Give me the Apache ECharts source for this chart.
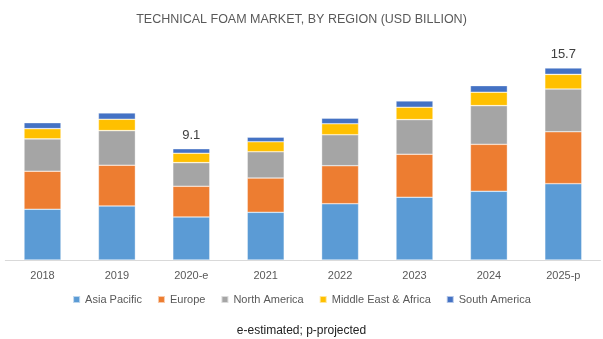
<!DOCTYPE html>
<html>
<head>
<meta charset="utf-8">
<script src="https://cdn.jsdelivr.net/npm/echarts@6/dist/echarts.min.js"></script>
<style>
html,body{margin:0;padding:0;background:#fff;}
#c{width:603px;height:339px;}
</style>
</head>
<body>
<div id="c"></div>
<script>
var categories = ['2018', '2019', '2020-e', '2021', '2022', '2023', '2024', '2025-p'];
var asiaPacific = [4.15, 4.42, 3.52, 3.90, 4.60, 5.13, 5.62, 6.24];
var europe = [3.11, 3.33, 2.51, 2.80, 3.11, 3.52, 3.84, 4.25];
var northAmerica = [2.64, 2.83, 1.93, 2.15, 2.53, 2.83, 3.16, 3.49];
var middleEastAfrica = [0.84, 0.93, 0.77, 0.82, 0.90, 1.01, 1.10, 1.20];
var southAmerica = [0.49, 0.52, 0.37, 0.38, 0.46, 0.52, 0.54, 0.52];
var totalLabels = ['', '', '9.1', '', '', '', '', '15.7'];
var seriesNames = ['Asia Pacific', 'Europe', 'North America', 'Middle East & Africa', 'South America'];

var colors = ['#5B9BD5', '#ED7D31', '#A5A5A5', '#FFC000', '#4472C4'];
var dataSets = [asiaPacific, europe, northAmerica, middleEastAfrica, southAmerica];

var series = dataSets.map(function (d, i) {
  var s = {
    name: seriesNames[i],
    type: 'bar',
    stack: 'total',
    barWidth: 37,
    data: d,
    itemStyle: { color: colors[i], borderColor: 'rgba(255,255,255,0.6)', borderWidth: 0.6 }
  };
  if (i === dataSets.length - 1) {
    s.label = {
      show: true,
      position: 'top',
      distance: 7,
      color: '#404040',
      fontFamily: 'Liberation Sans',
      fontSize: 13,
      formatter: function (p) { return totalLabels[p.dataIndex]; }
    };
  }
  return s;
});

var chart = echarts.init(document.getElementById('c'), null, { renderer: 'canvas' });
chart.setOption({
  animation: false,
  color: colors,
  title: [{
    text: 'TECHNICAL FOAM MARKET, BY REGION (USD BILLION)',
    left: 'center',
    top: 8,
    textStyle: { color: '#595959', fontFamily: 'Liberation Sans', fontSize: 12.5, fontWeight: 'normal' }
  }, {
    text: 'e-estimated; p-projected',
    left: 'center',
    top: 320,
    textStyle: { color: '#222222', fontFamily: 'Liberation Sans', fontSize: 12, fontWeight: 'normal' }
  }],
  legend: {
    data: seriesNames,
    bottom: 29,
    left: 'center',
    itemWidth: 7,
    itemHeight: 7,
    itemGap: 15,
    icon: 'rect',
    textStyle: { color: '#595959', fontFamily: 'Liberation Sans', fontSize: 11 }
  },
  grid: { left: 5.3, right: 2.5, top: 15.4, bottom: 79 },
  xAxis: {
    type: 'category',
    data: categories,
    axisLine: { lineStyle: { color: '#D9D9D9', width: 1 } },
    axisTick: { show: false },
    axisLabel: { color: '#595959', fontFamily: 'Liberation Sans', fontSize: 11, margin: 10 }
  },
  yAxis: {
    type: 'value',
    min: 0,
    max: 20,
    show: false,
    splitLine: { show: false }
  },
  series: series
});
</script>
</body>
</html>
